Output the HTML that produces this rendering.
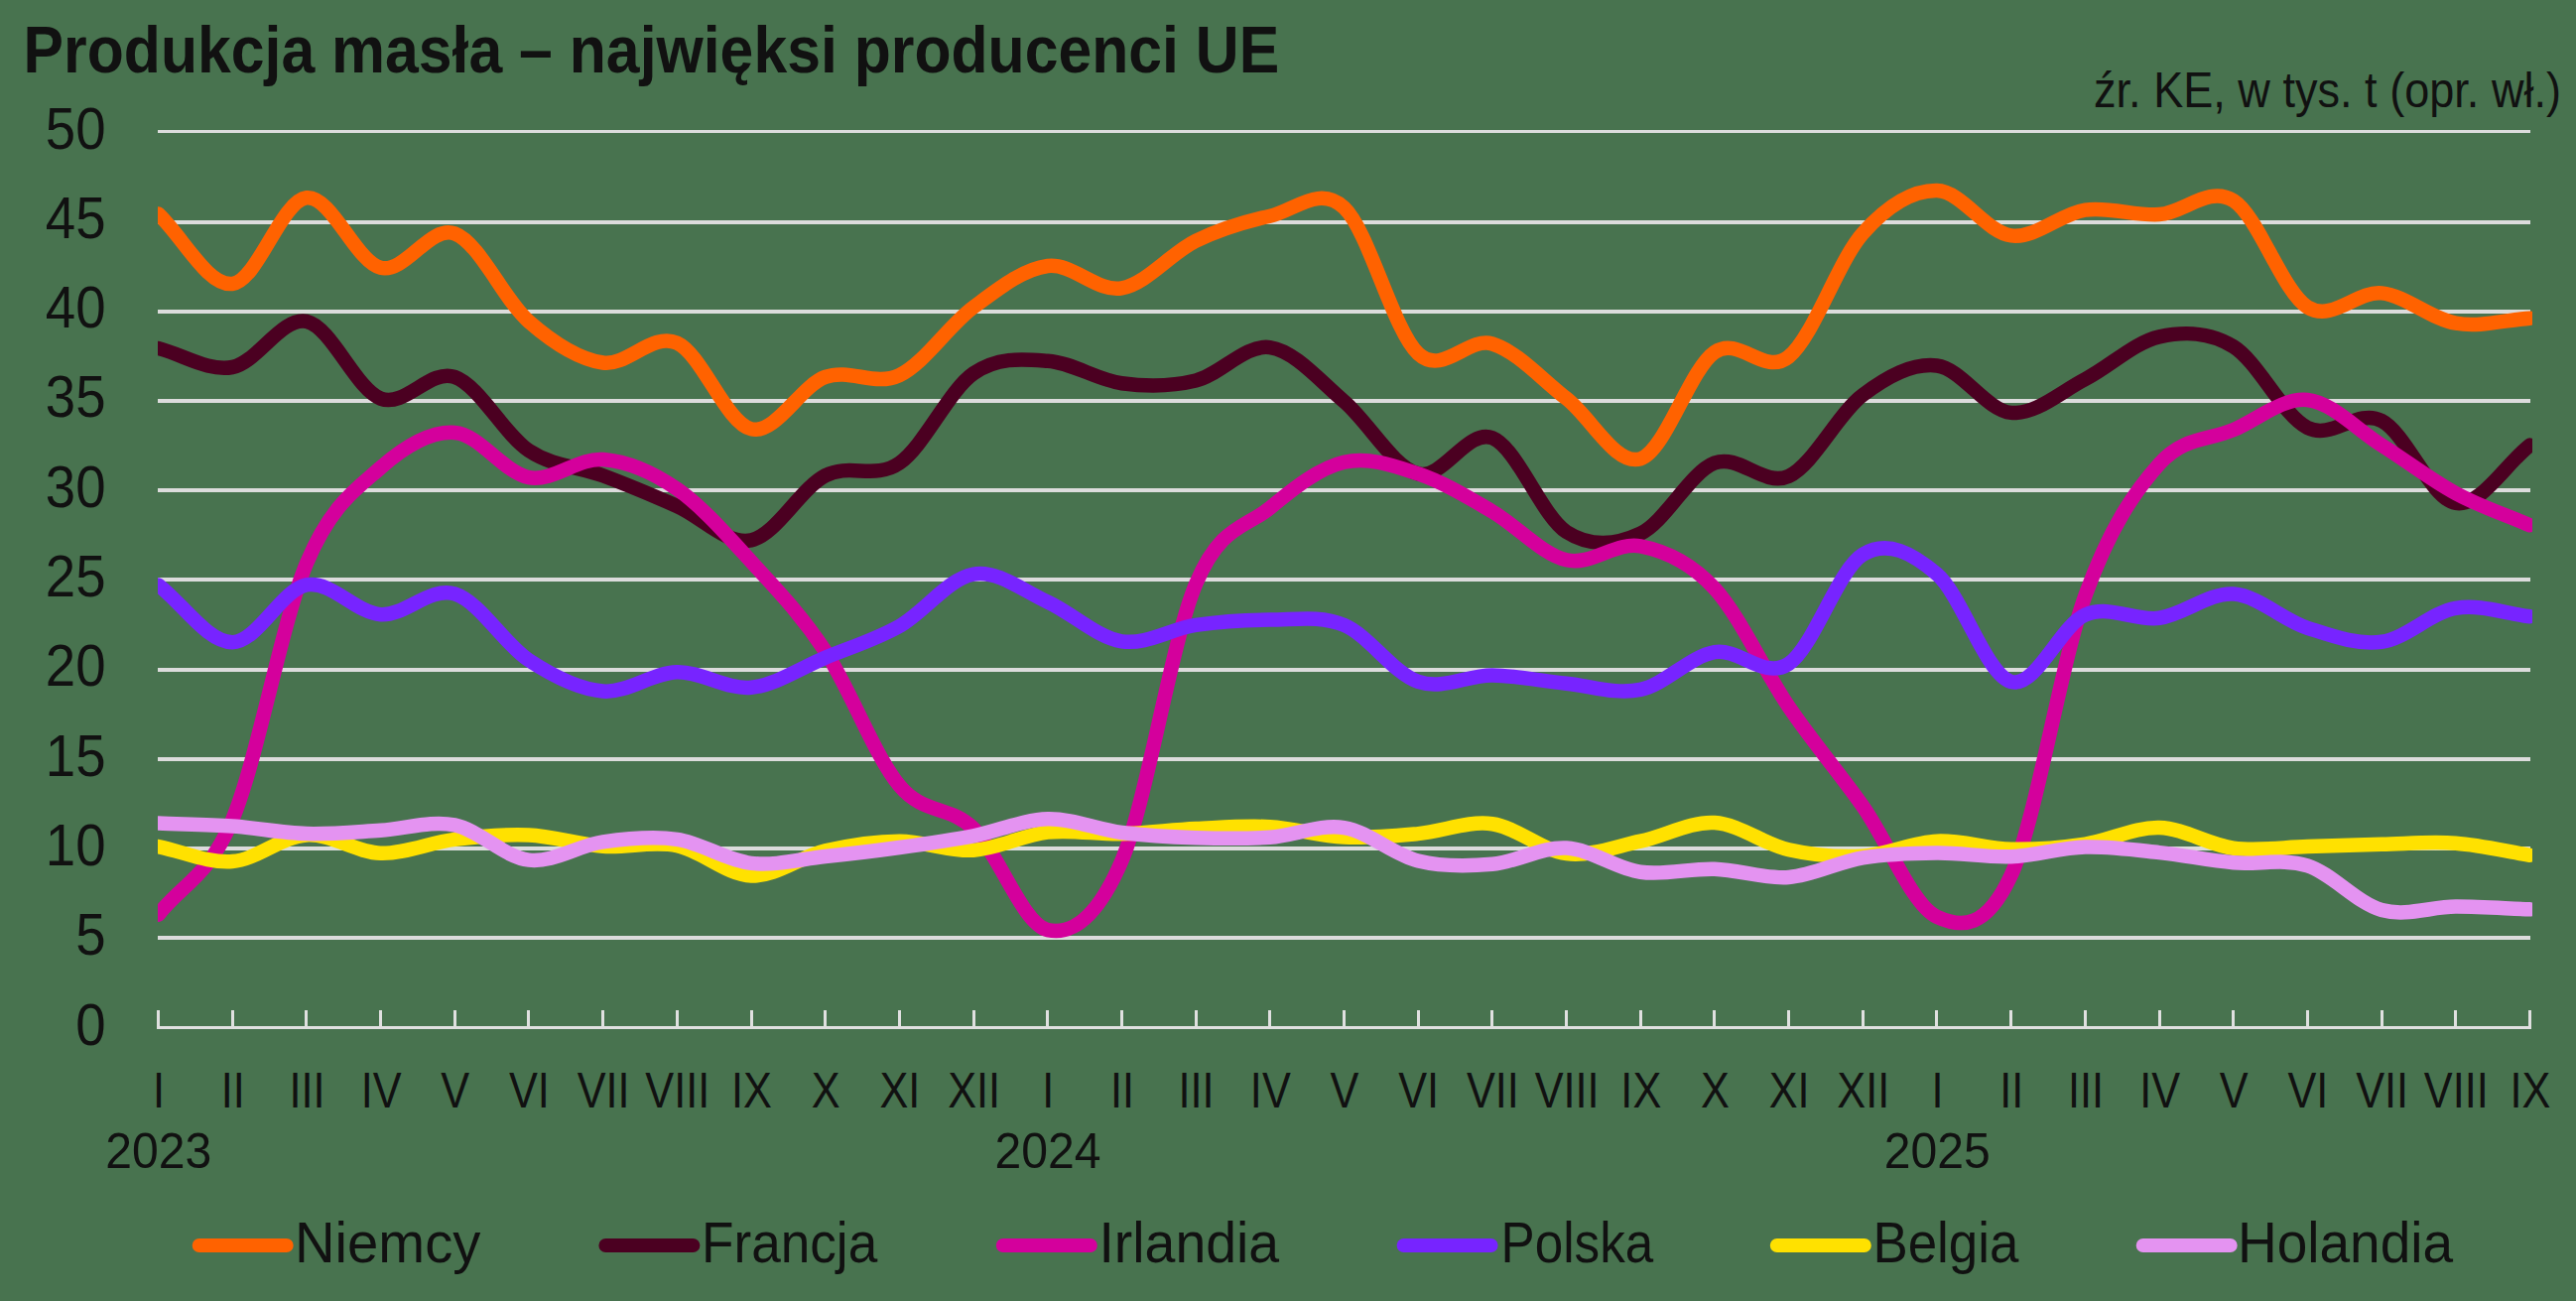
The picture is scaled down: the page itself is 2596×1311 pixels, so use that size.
<!DOCTYPE html>
<html><head><meta charset="utf-8"><style>
html,body{margin:0;padding:0}
body{width:2596px;height:1311px;background:#48734f;position:relative;overflow:hidden;font-family:"Liberation Sans",sans-serif}
svg{position:absolute;left:0;top:0;display:block}
</style></head><body>
<svg width="2596" height="1311" viewBox="0 0 2596 1311"><defs><clipPath id="pc"><rect x="159" y="0" width="2393" height="1311"/></clipPath></defs>
<rect x="159" y="943" width="2391" height="4" fill="#dcdcdc"/>
<rect x="159" y="853" width="2391" height="4" fill="#dcdcdc"/>
<rect x="159" y="763" width="2391" height="4" fill="#dcdcdc"/>
<rect x="159" y="673" width="2391" height="4" fill="#dcdcdc"/>
<rect x="159" y="582" width="2391" height="4" fill="#dcdcdc"/>
<rect x="159" y="492" width="2391" height="4" fill="#dcdcdc"/>
<rect x="159" y="402" width="2391" height="4" fill="#dcdcdc"/>
<rect x="159" y="312" width="2391" height="4" fill="#dcdcdc"/>
<rect x="159" y="222" width="2391" height="4" fill="#dcdcdc"/>
<rect x="159" y="131" width="2391" height="3" fill="#dcdcdc"/>
<rect x="158" y="1034" width="2393" height="3" fill="#e0e0e0"/>
<rect x="158" y="1018" width="3" height="19" fill="#e0e0e0"/>
<rect x="233" y="1018" width="3" height="19" fill="#e0e0e0"/>
<rect x="307" y="1018" width="3" height="19" fill="#e0e0e0"/>
<rect x="382" y="1018" width="3" height="19" fill="#e0e0e0"/>
<rect x="457" y="1018" width="3" height="19" fill="#e0e0e0"/>
<rect x="531" y="1018" width="3" height="19" fill="#e0e0e0"/>
<rect x="606" y="1018" width="3" height="19" fill="#e0e0e0"/>
<rect x="681" y="1018" width="3" height="19" fill="#e0e0e0"/>
<rect x="756" y="1018" width="3" height="19" fill="#e0e0e0"/>
<rect x="830" y="1018" width="3" height="19" fill="#e0e0e0"/>
<rect x="905" y="1018" width="3" height="19" fill="#e0e0e0"/>
<rect x="980" y="1018" width="3" height="19" fill="#e0e0e0"/>
<rect x="1054" y="1018" width="3" height="19" fill="#e0e0e0"/>
<rect x="1129" y="1018" width="3" height="19" fill="#e0e0e0"/>
<rect x="1204" y="1018" width="3" height="19" fill="#e0e0e0"/>
<rect x="1278" y="1018" width="3" height="19" fill="#e0e0e0"/>
<rect x="1353" y="1018" width="3" height="19" fill="#e0e0e0"/>
<rect x="1428" y="1018" width="3" height="19" fill="#e0e0e0"/>
<rect x="1502" y="1018" width="3" height="19" fill="#e0e0e0"/>
<rect x="1577" y="1018" width="3" height="19" fill="#e0e0e0"/>
<rect x="1652" y="1018" width="3" height="19" fill="#e0e0e0"/>
<rect x="1726" y="1018" width="3" height="19" fill="#e0e0e0"/>
<rect x="1801" y="1018" width="3" height="19" fill="#e0e0e0"/>
<rect x="1876" y="1018" width="3" height="19" fill="#e0e0e0"/>
<rect x="1950" y="1018" width="3" height="19" fill="#e0e0e0"/>
<rect x="2025" y="1018" width="3" height="19" fill="#e0e0e0"/>
<rect x="2100" y="1018" width="3" height="19" fill="#e0e0e0"/>
<rect x="2175" y="1018" width="3" height="19" fill="#e0e0e0"/>
<rect x="2249" y="1018" width="3" height="19" fill="#e0e0e0"/>
<rect x="2324" y="1018" width="3" height="19" fill="#e0e0e0"/>
<rect x="2399" y="1018" width="3" height="19" fill="#e0e0e0"/>
<rect x="2473" y="1018" width="3" height="19" fill="#e0e0e0"/>
<rect x="2548" y="1018" width="3" height="19" fill="#e0e0e0"/>
<g clip-path="url(#pc)" fill="none" stroke-width="14.5" stroke-linecap="round" stroke-linejoin="round">
<path d="M159.5,215.6 C184.4,239.1 209.3,288.7 234.2,286.0 C259.1,283.3 284.0,202.0 308.9,199.3 C333.8,196.6 358.7,263.7 383.6,269.8 C408.5,275.8 433.4,226.4 458.2,235.4 C483.1,244.5 508.0,302.3 532.9,323.9 C557.8,345.6 582.7,361.9 607.6,365.5 C632.5,369.1 657.4,334.5 682.3,345.6 C707.2,356.7 732.1,426.6 757.0,432.3 C781.9,438.0 806.8,389.0 831.7,379.9 C856.6,370.9 881.5,389.9 906.4,378.1 C931.3,366.4 956.2,327.8 981.1,309.5 C1006.0,291.1 1030.9,271.1 1055.8,268.0 C1080.6,264.8 1105.5,294.6 1130.4,290.3 C1155.3,286.1 1180.2,254.8 1205.1,242.7 C1230.0,230.6 1254.9,223.3 1279.8,217.7 C1304.7,212.2 1329.6,186.1 1354.5,209.3 C1379.4,232.4 1404.3,333.6 1429.2,356.4 C1454.1,379.3 1479.0,339.0 1503.9,346.5 C1528.8,354.0 1553.7,382.3 1578.6,401.6 C1603.5,420.9 1628.4,470.0 1653.2,462.3 C1678.1,454.5 1703.0,372.1 1727.9,355.0 C1752.8,337.9 1777.7,379.5 1802.6,359.5 C1827.5,339.5 1852.4,263.0 1877.3,235.1 C1902.2,207.2 1927.1,191.7 1952.0,192.1 C1976.9,192.5 2001.8,234.2 2026.7,237.4 C2051.6,240.7 2076.5,215.2 2101.4,211.6 C2126.3,208.1 2151.2,217.7 2176.1,216.1 C2201.0,214.6 2225.9,186.6 2250.8,202.2 C2275.6,217.8 2300.5,294.0 2325.4,309.5 C2350.3,325.0 2375.2,292.7 2400.1,295.4 C2425.0,298.1 2449.9,321.5 2474.8,325.7 C2499.7,330.0 2524.6,322.4 2549.5,320.7" stroke="#ff6200"/>
<path d="M159.5,351.0 C184.4,357.3 209.3,374.5 234.2,370.0 C259.1,365.5 284.0,318.7 308.9,323.9 C333.8,329.2 358.7,392.3 383.6,401.6 C408.5,410.9 433.4,371.2 458.2,379.9 C483.1,388.7 508.0,437.4 532.9,454.0 C557.8,470.5 582.7,469.9 607.6,479.3 C632.5,488.6 657.4,499.1 682.3,510.0 C707.2,520.8 732.1,549.4 757.0,544.3 C781.9,539.2 806.8,492.2 831.7,479.3 C856.6,466.3 881.5,483.8 906.4,466.6 C931.3,449.5 956.2,393.5 981.1,376.3 C1006.0,359.2 1030.9,362.0 1055.8,363.7 C1080.6,365.3 1105.5,382.9 1130.4,386.2 C1155.3,389.6 1180.2,389.6 1205.1,383.5 C1230.0,377.5 1254.9,346.6 1279.8,350.1 C1304.7,353.6 1329.6,383.3 1354.5,404.5 C1379.4,425.7 1404.3,471.3 1429.2,477.4 C1454.1,483.6 1479.0,431.6 1503.9,441.3 C1528.8,451.1 1553.7,519.9 1578.6,536.0 C1603.5,552.0 1628.4,549.1 1653.2,537.6 C1678.1,526.0 1703.0,476.2 1727.9,466.6 C1752.8,457.0 1777.7,491.2 1802.6,479.8 C1827.5,468.4 1852.4,416.5 1877.3,398.0 C1902.2,379.4 1927.1,365.6 1952.0,368.5 C1976.9,371.5 2001.8,413.6 2026.7,415.9 C2051.6,418.1 2076.5,394.9 2101.4,382.1 C2126.3,369.3 2151.2,344.8 2176.1,339.3 C2201.0,333.8 2225.9,333.9 2250.8,349.2 C2275.6,364.5 2300.5,418.6 2325.4,431.0 C2350.3,443.5 2375.2,411.3 2400.1,424.0 C2425.0,436.6 2449.9,502.8 2474.8,506.9 C2499.7,511.0 2524.6,468.0 2549.5,448.6" stroke="#4b0021"/>
<path d="M159.5,921.7 C184.4,889.8 209.3,885.0 234.2,826.0 C259.1,767.0 284.0,626.9 308.9,567.7 C333.8,508.6 358.7,493.3 383.6,471.3 C408.5,449.3 433.4,434.3 458.2,435.9 C483.1,437.5 508.0,476.5 532.9,481.1 C557.8,485.6 582.7,461.0 607.6,463.0 C632.5,465.0 657.4,475.6 682.3,492.8 C707.2,510.0 732.1,538.7 757.0,565.9 C781.9,593.2 806.8,618.6 831.7,656.2 C856.6,693.9 881.5,761.9 906.4,791.7 C931.3,821.5 956.2,810.8 981.1,835.0 C1006.0,859.3 1030.9,931.7 1055.8,937.1 C1080.6,942.5 1105.5,925.6 1130.4,867.5 C1155.3,809.4 1180.2,647.8 1205.1,588.5 C1230.0,529.2 1254.9,532.2 1279.8,511.8 C1304.7,491.3 1329.6,471.4 1354.5,465.7 C1379.4,460.0 1404.3,469.2 1429.2,477.4 C1454.1,485.7 1479.0,500.9 1503.9,515.4 C1528.8,529.9 1553.7,558.5 1578.6,564.3 C1603.5,570.2 1628.4,545.6 1653.2,550.4 C1678.1,555.2 1703.0,566.1 1727.9,593.0 C1752.8,620.0 1777.7,675.7 1802.6,712.2 C1827.5,748.8 1852.4,777.2 1877.3,812.5 C1902.2,847.7 1927.1,912.3 1952.0,923.9 C1976.9,935.5 2001.8,935.9 2026.7,882.0 C2051.6,828.1 2076.5,669.3 2101.4,600.3 C2126.3,531.2 2151.2,495.4 2176.1,467.5 C2201.0,439.7 2225.9,443.9 2250.8,433.2 C2275.6,422.5 2300.5,400.5 2325.4,403.0 C2350.3,405.6 2375.2,432.9 2400.1,448.6 C2425.0,464.2 2449.9,483.7 2474.8,497.1 C2499.7,510.6 2524.6,518.6 2549.5,529.3" stroke="#d4009c"/>
<path d="M159.5,589.4 C184.4,608.7 209.3,647.2 234.2,647.2 C259.1,647.2 284.0,594.1 308.9,589.4 C333.8,584.8 358.7,617.7 383.6,619.2 C408.5,620.7 433.4,590.8 458.2,598.4 C483.1,606.1 508.0,648.9 532.9,665.3 C557.8,681.6 582.7,694.5 607.6,696.5 C632.5,698.5 657.4,677.8 682.3,677.2 C707.2,676.6 732.1,695.1 757.0,692.7 C781.9,690.3 806.8,673.0 831.7,662.7 C856.6,652.4 881.5,645.0 906.4,631.0 C931.3,616.9 956.2,582.6 981.1,578.6 C1006.0,574.5 1030.9,595.3 1055.8,606.6 C1080.6,617.9 1105.5,642.4 1130.4,646.3 C1155.3,650.2 1180.2,633.5 1205.1,629.9 C1230.0,626.3 1254.9,624.6 1279.8,624.6 C1304.7,624.6 1329.6,619.5 1354.5,629.9 C1379.4,640.3 1404.3,678.5 1429.2,686.9 C1454.1,695.4 1479.0,680.1 1503.9,680.4 C1528.8,680.7 1553.7,686.3 1578.6,688.7 C1603.5,691.2 1628.4,700.2 1653.2,694.9 C1678.1,689.6 1703.0,661.5 1727.9,657.1 C1752.8,652.8 1777.7,685.3 1802.6,668.9 C1827.5,652.5 1852.4,573.8 1877.3,558.7 C1902.2,543.7 1927.1,557.2 1952.0,578.6 C1976.9,600.0 2001.8,680.1 2026.7,686.9 C2051.6,693.8 2076.5,630.3 2101.4,619.6 C2126.3,608.9 2151.2,626.3 2176.1,622.8 C2201.0,619.3 2225.9,597.0 2250.8,598.6 C2275.6,600.3 2300.5,624.7 2325.4,632.8 C2350.3,640.8 2375.2,650.2 2400.1,646.8 C2425.0,643.5 2449.9,617.2 2474.8,612.9 C2499.7,608.6 2524.6,618.4 2549.5,621.2" stroke="#7724ff"/>
<path d="M159.5,853.1 C184.4,858.1 209.3,870.0 234.2,868.1 C259.1,866.1 284.0,842.7 308.9,841.4 C333.8,840.0 358.7,859.0 383.6,859.8 C408.5,860.5 433.4,848.9 458.2,845.9 C483.1,842.8 508.0,840.4 532.9,841.5 C557.8,842.7 582.7,851.0 607.6,852.7 C632.5,854.5 657.4,847.2 682.3,852.2 C707.2,857.2 732.1,881.7 757.0,882.5 C781.9,883.4 806.8,863.2 831.7,857.4 C856.6,851.6 881.5,847.8 906.4,847.7 C931.3,847.6 956.2,858.2 981.1,856.7 C1006.0,855.2 1030.9,841.4 1055.8,838.6 C1080.6,835.9 1105.5,840.9 1130.4,840.3 C1155.3,839.7 1180.2,836.2 1205.1,835.0 C1230.0,833.9 1254.9,831.8 1279.8,833.2 C1304.7,834.6 1329.6,842.4 1354.5,843.5 C1379.4,844.7 1404.3,842.3 1429.2,840.1 C1454.1,837.9 1479.0,826.8 1503.9,830.2 C1528.8,833.5 1553.7,857.2 1578.6,860.1 C1603.5,863.1 1628.4,852.9 1653.2,847.7 C1678.1,842.5 1703.0,827.6 1727.9,829.1 C1752.8,830.5 1777.7,850.7 1802.6,856.3 C1827.5,861.9 1852.4,864.1 1877.3,862.7 C1902.2,861.2 1927.1,848.8 1952.0,847.7 C1976.9,846.5 2001.8,855.3 2026.7,855.8 C2051.6,856.3 2076.5,854.2 2101.4,850.6 C2126.3,846.9 2151.2,833.3 2176.1,834.0 C2201.0,834.6 2225.9,851.5 2250.8,854.7 C2275.6,857.9 2300.5,853.8 2325.4,853.1 C2350.3,852.4 2375.2,851.3 2400.1,850.7 C2425.0,850.2 2449.9,847.8 2474.8,849.7 C2499.7,851.5 2524.6,857.7 2549.5,861.8" stroke="#ffe100"/>
<path d="M159.5,829.6 C184.4,830.6 209.3,830.8 234.2,832.5 C259.1,834.3 284.0,839.4 308.9,840.1 C333.8,840.8 358.7,838.3 383.6,836.8 C408.5,835.4 433.4,826.5 458.2,831.4 C483.1,836.4 508.0,863.8 532.9,866.6 C557.8,869.5 582.7,851.9 607.6,848.4 C632.5,844.9 657.4,842.3 682.3,845.9 C707.2,849.5 732.1,867.0 757.0,869.9 C781.9,872.7 806.8,865.7 831.7,863.0 C856.6,860.4 881.5,857.5 906.4,854.0 C931.3,850.5 956.2,847.0 981.1,842.3 C1006.0,837.5 1030.9,825.8 1055.8,825.3 C1080.6,824.7 1105.5,835.8 1130.4,839.0 C1155.3,842.2 1180.2,843.5 1205.1,844.2 C1230.0,845.0 1254.9,845.4 1279.8,843.7 C1304.7,842.0 1329.6,830.2 1354.5,834.1 C1379.4,838.1 1404.3,861.4 1429.2,867.5 C1454.1,873.7 1479.0,873.0 1503.9,870.8 C1528.8,868.6 1553.7,853.2 1578.6,854.5 C1603.5,855.9 1628.4,875.2 1653.2,878.7 C1678.1,882.3 1703.0,874.8 1727.9,875.7 C1752.8,876.5 1777.7,885.9 1802.6,884.0 C1827.5,882.1 1852.4,868.4 1877.3,864.3 C1902.2,860.2 1927.1,859.6 1952.0,859.4 C1976.9,859.2 2001.8,864.2 2026.7,863.2 C2051.6,862.2 2076.5,854.3 2101.4,853.6 C2126.3,852.9 2151.2,856.4 2176.1,859.1 C2201.0,861.7 2225.9,867.1 2250.8,869.3 C2275.6,871.6 2300.5,864.5 2325.4,872.4 C2350.3,880.4 2375.2,910.2 2400.1,917.0 C2425.0,923.9 2449.9,913.7 2474.8,913.6 C2499.7,913.5 2524.6,915.4 2549.5,916.3" stroke="#e493f1"/>
</g>
<line x1="200.7" y1="1255" x2="288.7" y2="1255" stroke="#ff6200" stroke-width="14" stroke-linecap="round"/>
<line x1="610.4" y1="1255" x2="698.4" y2="1255" stroke="#4b0021" stroke-width="14" stroke-linecap="round"/>
<line x1="1010.8" y1="1255" x2="1098.8" y2="1255" stroke="#d4009c" stroke-width="14" stroke-linecap="round"/>
<line x1="1414.6" y1="1255" x2="1502.6" y2="1255" stroke="#7724ff" stroke-width="14" stroke-linecap="round"/>
<line x1="1790.8" y1="1255" x2="1878.8" y2="1255" stroke="#ffe100" stroke-width="14" stroke-linecap="round"/>
<line x1="2159.7" y1="1255" x2="2247.7" y2="1255" stroke="#e493f1" stroke-width="14" stroke-linecap="round"/>
<g fill="#111111" font-family="Liberation Sans, sans-serif"><text transform="translate(23.6,73.4) scale(0.9080,1)" font-size="66.9" text-anchor="start" font-weight="bold">Produkcja masła – najwięksi producenci UE</text>
<text transform="translate(2581.0,108.1) scale(0.9130,1)" font-size="49.4" text-anchor="end">źr. KE, w tys. t (opr. wł.)</text>
<text transform="translate(106.5,1052.5) scale(0.9330,1)" font-size="58.5" text-anchor="end">0</text>
<text transform="translate(106.5,962.2) scale(0.9330,1)" font-size="58.5" text-anchor="end">5</text>
<text transform="translate(106.5,871.9) scale(0.9330,1)" font-size="58.5" text-anchor="end">10</text>
<text transform="translate(106.5,781.6) scale(0.9330,1)" font-size="58.5" text-anchor="end">15</text>
<text transform="translate(106.5,691.3) scale(0.9330,1)" font-size="58.5" text-anchor="end">20</text>
<text transform="translate(106.5,601.0) scale(0.9330,1)" font-size="58.5" text-anchor="end">25</text>
<text transform="translate(106.5,510.7) scale(0.9330,1)" font-size="58.5" text-anchor="end">30</text>
<text transform="translate(106.5,420.4) scale(0.9330,1)" font-size="58.5" text-anchor="end">35</text>
<text transform="translate(106.5,330.1) scale(0.9330,1)" font-size="58.5" text-anchor="end">40</text>
<text transform="translate(106.5,239.8) scale(0.9330,1)" font-size="58.5" text-anchor="end">45</text>
<text transform="translate(106.5,149.5) scale(0.9330,1)" font-size="58.5" text-anchor="end">50</text>
<text transform="translate(160.0,1115.5) scale(0.8500,1)" font-size="50.9" text-anchor="middle">I</text>
<text transform="translate(234.7,1115.5) scale(0.8500,1)" font-size="50.9" text-anchor="middle">II</text>
<text transform="translate(309.4,1115.5) scale(0.8500,1)" font-size="50.9" text-anchor="middle">III</text>
<text transform="translate(384.1,1115.5) scale(0.8500,1)" font-size="50.9" text-anchor="middle">IV</text>
<text transform="translate(458.8,1115.5) scale(0.8500,1)" font-size="50.9" text-anchor="middle">V</text>
<text transform="translate(533.4,1115.5) scale(0.8500,1)" font-size="50.9" text-anchor="middle">VI</text>
<text transform="translate(608.1,1115.5) scale(0.8500,1)" font-size="50.9" text-anchor="middle">VII</text>
<text transform="translate(682.8,1115.5) scale(0.8500,1)" font-size="50.9" text-anchor="middle">VIII</text>
<text transform="translate(757.5,1115.5) scale(0.8500,1)" font-size="50.9" text-anchor="middle">IX</text>
<text transform="translate(832.2,1115.5) scale(0.8500,1)" font-size="50.9" text-anchor="middle">X</text>
<text transform="translate(906.9,1115.5) scale(0.8500,1)" font-size="50.9" text-anchor="middle">XI</text>
<text transform="translate(981.6,1115.5) scale(0.8500,1)" font-size="50.9" text-anchor="middle">XII</text>
<text transform="translate(1056.2,1115.5) scale(0.8500,1)" font-size="50.9" text-anchor="middle">I</text>
<text transform="translate(1130.9,1115.5) scale(0.8500,1)" font-size="50.9" text-anchor="middle">II</text>
<text transform="translate(1205.6,1115.5) scale(0.8500,1)" font-size="50.9" text-anchor="middle">III</text>
<text transform="translate(1280.3,1115.5) scale(0.8500,1)" font-size="50.9" text-anchor="middle">IV</text>
<text transform="translate(1355.0,1115.5) scale(0.8500,1)" font-size="50.9" text-anchor="middle">V</text>
<text transform="translate(1429.7,1115.5) scale(0.8500,1)" font-size="50.9" text-anchor="middle">VI</text>
<text transform="translate(1504.4,1115.5) scale(0.8500,1)" font-size="50.9" text-anchor="middle">VII</text>
<text transform="translate(1579.1,1115.5) scale(0.8500,1)" font-size="50.9" text-anchor="middle">VIII</text>
<text transform="translate(1653.8,1115.5) scale(0.8500,1)" font-size="50.9" text-anchor="middle">IX</text>
<text transform="translate(1728.4,1115.5) scale(0.8500,1)" font-size="50.9" text-anchor="middle">X</text>
<text transform="translate(1803.1,1115.5) scale(0.8500,1)" font-size="50.9" text-anchor="middle">XI</text>
<text transform="translate(1877.8,1115.5) scale(0.8500,1)" font-size="50.9" text-anchor="middle">XII</text>
<text transform="translate(1952.5,1115.5) scale(0.8500,1)" font-size="50.9" text-anchor="middle">I</text>
<text transform="translate(2027.2,1115.5) scale(0.8500,1)" font-size="50.9" text-anchor="middle">II</text>
<text transform="translate(2101.9,1115.5) scale(0.8500,1)" font-size="50.9" text-anchor="middle">III</text>
<text transform="translate(2176.6,1115.5) scale(0.8500,1)" font-size="50.9" text-anchor="middle">IV</text>
<text transform="translate(2251.2,1115.5) scale(0.8500,1)" font-size="50.9" text-anchor="middle">V</text>
<text transform="translate(2325.9,1115.5) scale(0.8500,1)" font-size="50.9" text-anchor="middle">VI</text>
<text transform="translate(2400.6,1115.5) scale(0.8500,1)" font-size="50.9" text-anchor="middle">VII</text>
<text transform="translate(2475.3,1115.5) scale(0.8500,1)" font-size="50.9" text-anchor="middle">VIII</text>
<text transform="translate(2550.0,1115.5) scale(0.8500,1)" font-size="50.9" text-anchor="middle">IX</text>
<text transform="translate(159.8,1177.0) scale(0.9510,1)" font-size="50.6" text-anchor="middle">2023</text>
<text transform="translate(1056.0,1177.0) scale(0.9510,1)" font-size="50.6" text-anchor="middle">2024</text>
<text transform="translate(1952.3,1177.0) scale(0.9510,1)" font-size="50.6" text-anchor="middle">2025</text>
<text transform="translate(297.0,1272.0) scale(0.9676,1)" font-size="58.1" text-anchor="start">Niemcy</text>
<text transform="translate(707.0,1272.0) scale(0.9150,1)" font-size="58.1" text-anchor="start">Francja</text>
<text transform="translate(1107.4,1272.0) scale(0.9540,1)" font-size="58.1" text-anchor="start">Irlandia</text>
<text transform="translate(1512.6,1272.0) scale(0.8810,1)" font-size="58.1" text-anchor="start">Polska</text>
<text transform="translate(1887.4,1272.0) scale(0.9100,1)" font-size="58.1" text-anchor="start">Belgia</text>
<text transform="translate(2254.9,1272.0) scale(0.9470,1)" font-size="58.1" text-anchor="start">Holandia</text></g>
</svg>
</body></html>
